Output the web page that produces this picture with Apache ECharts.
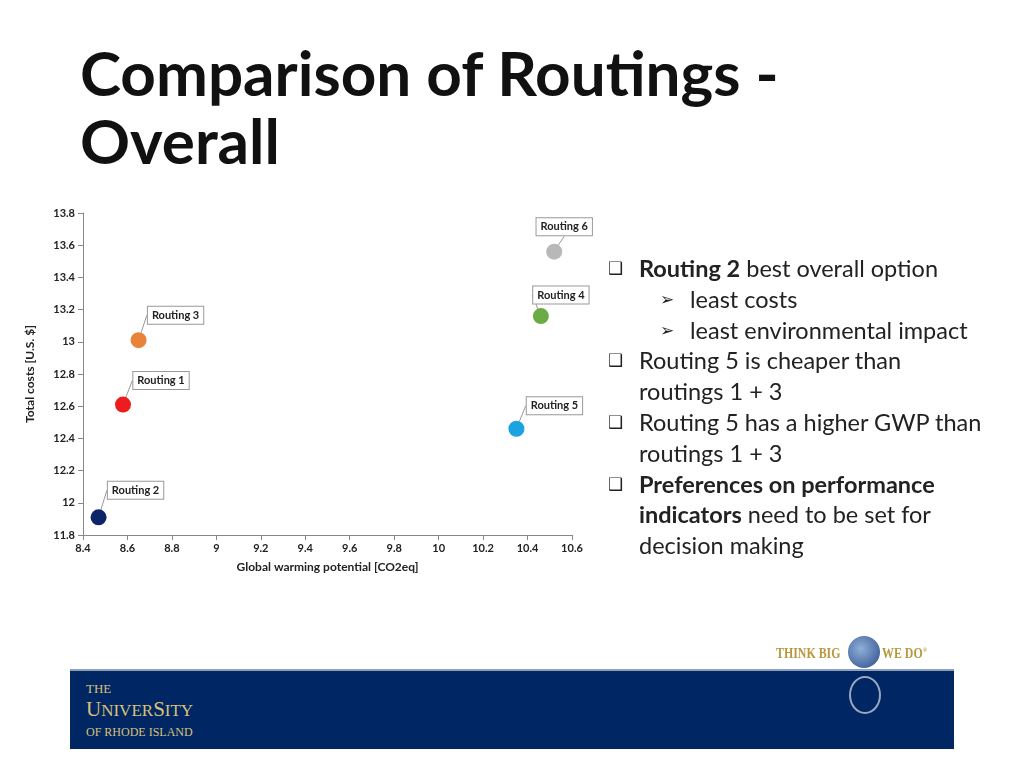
<!DOCTYPE html>
<html><head><meta charset="utf-8">
<script src="https://cdn.jsdelivr.net/npm/echarts@6/dist/echarts.min.js"></script>
<style>
body{margin:0;width:1024px;height:768px;position:relative;background:#fff;font-family:Lato,"Open Sans",sans-serif;overflow:hidden}
#chart{position:absolute;left:0;top:0;width:1024px;height:768px}
h1{position:absolute;left:80px;top:38px;margin:0;font-size:62px;line-height:68px;font-weight:700;color:#111}
ul{position:absolute;left:608px;top:253px;margin:0;padding:0;list-style:none;font-size:23.5px;line-height:30.8px;color:#222;white-space:nowrap}
li{padding-left:31px;position:relative}
li:before{content:"\2751";position:absolute;left:0;font-size:17px;font-family:"DejaVu Sans"}
li.sub{padding-left:82px}
li.sub:before{content:"\27A2";left:52px;font-size:17px}
#bar{position:absolute;left:70px;top:669px;width:884px;height:78px;background:#002663;border-top:2px solid #8da0c0}
#uri{position:absolute;left:86px;top:678px;color:#d8c27a;font-family:"Liberation Serif",serif;line-height:20px}
.tb{position:absolute;top:646px;color:#b8973c;font-family:"Liberation Serif",serif;font-weight:bold;font-size:14px;transform-origin:left;transform:scaleX(0.85)}
#globe{position:absolute;left:848px;top:636px;width:32px;height:32px;border-radius:50%;background:radial-gradient(circle at 40% 40%,#8fb0d8,#2a4a8a)}
#seal{position:absolute;left:849px;top:676px;width:28px;height:34px;border-radius:50%;border:2px solid #9aa7c0}
</style></head><body>
<div id="chart"></div>
<h1>Comparison of Routings -<br>Overall</h1>
<ul>
<li><b>Routing 2</b> best overall option</li>
<li class="sub">least costs</li>
<li class="sub">least environmental impact</li>
<li>Routing 5 is cheaper than<br>routings 1 + 3</li>
<li>Routing 5 has a higher GWP than<br>routings 1 + 3</li>
<li><b>Preferences on performance<br>indicators</b> need to be set for<br>decision making</li>
</ul>
<div id="bar"></div>
<div id="uri"><span style="font-size:13px">THE</span><br><span style="font-size:21px">U<span style="font-size:17px">NIVER</span>S<span style="font-size:17px">ITY</span></span><br><span style="font-size:12px">OF RHODE ISLAND</span></div>
<div class="tb" style="left:776px">THINK BIG</div><div class="tb" style="left:882px">WE DO<sup style="font-size:7px">®</sup></div>
<div id="globe"></div><div id="seal"></div>
<script>
const names = ['Routing 1','Routing 2','Routing 3','Routing 4','Routing 5','Routing 6'];
const gwp = [8.58, 8.47, 8.65, 10.46, 10.35, 10.52];
const costs = [12.61, 11.91, 13.01, 13.16, 12.46, 13.56];
const colors = ['#ee1c1c','#0d2466','#e8843a','#6aab45','#1aa3e0','#b8b8b8'];
const labelDx = [38, 37, 37, 20, 38, 10];
const labelDy = [-24, -27, -25, -21, -23, -25];

const chart = echarts.init(document.getElementById('chart'));
const axisFont = {color:'#222', fontSize:11, fontWeight:'bold', fontFamily:'Lato'};
chart.setOption({
  animation:false,
  grid:{left:83, right:452, top:213, bottom:233},
  xAxis:{type:'value', min:8.4, max:10.6, interval:0.2, name:'Global warming potential [CO2eq]',
    nameLocation:'middle', nameGap:26, nameTextStyle:{...axisFont, fontSize:12},
    splitLine:{show:false}, axisLine:{lineStyle:{color:'#888'}}, axisTick:{show:true,lineStyle:{color:'#888'}},
    axisLabel:{...axisFont, formatter:v=>+v.toFixed(1)}},
  yAxis:{type:'value', min:11.8, max:13.8, interval:0.2, name:'Total costs [U.S. $]',
    nameLocation:'middle', nameGap:47, nameTextStyle:{...axisFont, fontSize:12},
    splitLine:{show:false}, axisLine:{show:true,lineStyle:{color:'#888'}}, axisTick:{show:true,lineStyle:{color:'#888'}},
    axisLabel:{...axisFont, formatter:v=>+v.toFixed(1)}},
  series:[{
    type:'scatter', symbolSize:16,
    data: names.map((n,i)=>({value:[gwp[i],costs[i]], name:n, itemStyle:{color:colors[i], opacity:1}})),
    label:{show:true, formatter:'{b}', color:'#222', fontSize:11, fontWeight:'bold', fontFamily:'Lato',
      backgroundColor:'#fff', borderColor:'#999', borderWidth:1, padding:[3,4], position:'inside'},
    labelLine:{show:true, lineStyle:{color:'#999', width:1}},
    labelLayout:(p)=>({dx:labelDx[p.dataIndex], dy:labelDy[p.dataIndex]})
  }]
});
</script>
</body></html>
